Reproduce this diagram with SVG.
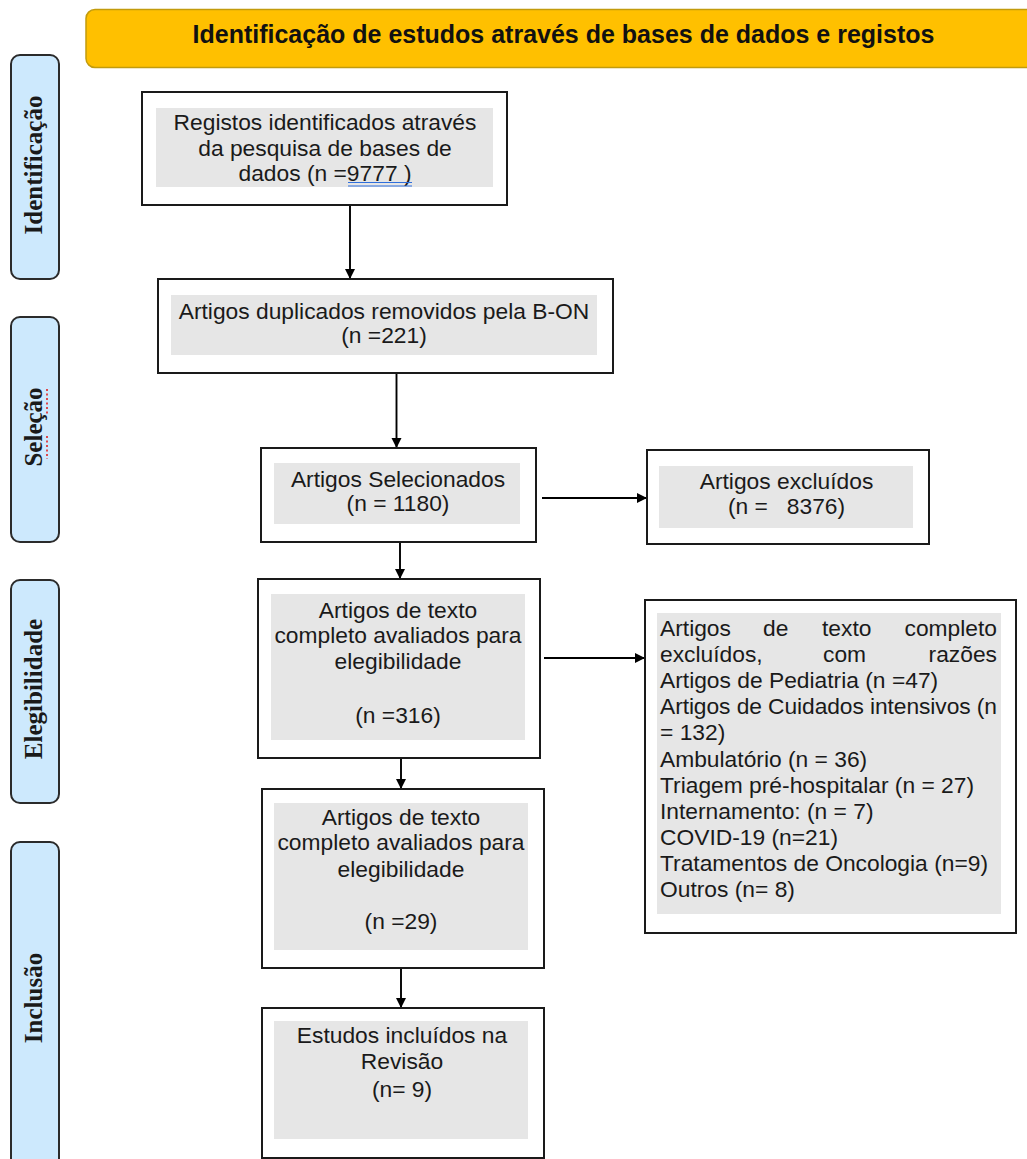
<svg xmlns="http://www.w3.org/2000/svg" width="1027" height="1159" viewBox="0 0 1027 1159">
<defs>
<style>
.box{fill:#ffffff;stroke:#1a1a1a;stroke-width:2}
.inner{fill:#e6e6e6;stroke:none}
.t{font-family:"Liberation Sans",Arial,sans-serif;font-size:22.8px;fill:#1a1a1a;text-anchor:middle;white-space:pre}
.tl{font-family:"Liberation Sans",Arial,sans-serif;font-size:22.8px;fill:#1a1a1a;white-space:pre}
.side{fill:#cde9fd;stroke:#2b2b2b;stroke-width:2}
.st{font-family:"Liberation Serif","Times New Roman",serif;font-weight:bold;font-size:25px;fill:#1a1a1a;text-anchor:middle}
.conn{stroke:#000;stroke-width:1.9;fill:none;marker-end:url(#ah)}
</style>
<marker id="ah" markerUnits="userSpaceOnUse" markerWidth="11" markerHeight="11" refX="10" refY="5.5" orient="auto">
<path d="M0,0.5 L10,5.5 L0,10.5 Z" fill="#000"/>
</marker>
</defs>

<g id="header">
<rect x="86" y="9.5" width="960" height="58" rx="9" fill="#ffc000" stroke="#c29b0c" stroke-width="1.5"/>
<text x="563.5" y="43" style="font-family:'Liberation Sans',Arial,sans-serif;font-weight:bold;font-size:25px;fill:#111;text-anchor:middle">Identificação de estudos através de bases de dados e registos</text>
</g>

<g id="stage-identificacao">
<rect class="side" x="11" y="55" width="48" height="224" rx="9"/>
<text class="st" transform="translate(42,165) rotate(-90)">Identificação</text>
</g>
<g id="stage-selecao">
<rect class="side" x="11" y="317" width="48" height="225" rx="9"/>
<text class="st" transform="translate(42,427) rotate(-90)">Seleção</text>
<path d="M47,389 L47,414 M47,436 L47,459" stroke="#e02020" stroke-width="1.6" stroke-dasharray="2,2.5" fill="none"/>
</g>
<g id="stage-elegibilidade">
<rect class="side" x="11" y="580" width="48" height="223" rx="9"/>
<text class="st" transform="translate(42,689) rotate(-90)">Elegibilidade</text>
</g>
<g id="stage-inclusao">
<rect class="side" x="11" y="842" width="48" height="340" rx="9"/>
<text class="st" transform="translate(42,998) rotate(-90)">Inclusão</text>
</g>

<g id="connectors">
<line class="conn" x1="350" y1="205" x2="350" y2="279"/>
<line class="conn" x1="396.5" y1="373" x2="396.5" y2="448"/>
<line class="conn" x1="542" y1="498" x2="647" y2="498"/>
<line class="conn" x1="400" y1="523" x2="400" y2="579"/>
<line class="conn" x1="544" y1="658" x2="645" y2="658"/>
<line class="conn" x1="401" y1="728" x2="401" y2="789"/>
<line class="conn" x1="401" y1="943" x2="401" y2="1008"/>
</g>

<g id="registos">
<rect class="box" x="142" y="92" width="365" height="113"/>
<rect class="inner" x="156" y="108" width="337" height="79"/>
<text class="t" x="325" y="130">Registos identificados através</text>
<text class="t" x="325" y="156">da pesquisa de bases de</text>
<text class="t" x="325" y="181">dados (n =9777 )</text>
<path d="M348,182.5 L412,182.5 M348,186 L412,186" stroke="#2f6fdc" stroke-width="1.2" fill="none"/>
</g>

<g id="duplicados">
<rect class="box" x="158" y="279" width="455" height="94"/>
<rect class="inner" x="171" y="295" width="426" height="60"/>
<text class="t" x="384" y="319">Artigos duplicados removidos pela B-ON</text>
<text class="t" x="384" y="343">(n =221)</text>
</g>

<g id="selecionados">
<rect class="box" x="261" y="448" width="275" height="94"/>
<rect class="inner" x="274" y="463" width="246" height="61"/>
<text class="t" x="398" y="487">Artigos Selecionados</text>
<text class="t" x="398" y="511">(n = 1180)</text>
</g>

<g id="excluidos">
<rect class="box" x="647" y="450" width="282" height="94"/>
<rect class="inner" x="659" y="466" width="254" height="62"/>
<text class="t" x="786.5" y="489">Artigos excluídos</text>
<text class="t" x="786.5" y="514">(n =   8376)</text>
</g>

<g id="avaliados-316">
<rect class="box" x="258" y="579" width="282" height="179"/>
<rect class="inner" x="271" y="594" width="254" height="146"/>
<text class="t" x="398" y="618">Artigos de texto</text>
<text class="t" x="398" y="643">completo avaliados para</text>
<text class="t" x="398" y="669">elegibilidade</text>
<text class="t" x="398" y="723">(n =316)</text>
</g>

<g id="excluidos-razoes">
<rect class="box" x="645" y="600" width="371" height="333"/>
<rect class="inner" x="657" y="613" width="344" height="301"/>
<text class="tl" x="660" y="636">Artigos</text>
<text class="tl" x="763" y="636">de</text>
<text class="tl" x="822" y="636">texto</text>
<text class="tl" x="997" y="636" text-anchor="end">completo</text>
<text class="tl" x="660" y="662">excluídos,</text>
<text class="tl" x="823" y="662">com</text>
<text class="tl" x="997" y="662" text-anchor="end">razões</text>
<text class="tl" x="660" y="688">Artigos de Pediatria (n =47)</text>
<text class="tl" x="660" y="714" textLength="337" lengthAdjust="spacing">Artigos de Cuidados intensivos (n</text>
<text class="tl" x="660" y="740">= 132)</text>
<text class="tl" x="660" y="766.5">Ambulatório (n = 36)</text>
<text class="tl" x="660" y="792.5">Triagem pré-hospitalar (n = 27)</text>
<text class="tl" x="660" y="818.5">Internamento: (n = 7)</text>
<text class="tl" x="660" y="845">COVID-19 (n=21)</text>
<text class="tl" x="660" y="871">Tratamentos de Oncologia (n=9)</text>
<text class="tl" x="660" y="897">Outros (n= 8)</text>
</g>

<g id="avaliados-29">
<rect class="box" x="262" y="789" width="282" height="179"/>
<rect class="inner" x="274" y="803" width="254" height="147"/>
<text class="t" x="401" y="825">Artigos de texto</text>
<text class="t" x="401" y="850">completo avaliados para</text>
<text class="t" x="401" y="877">elegibilidade</text>
<text class="t" x="401" y="929">(n =29)</text>
</g>

<g id="incluidos">
<rect class="box" x="262" y="1008" width="282" height="150"/>
<rect class="inner" x="274" y="1021" width="254" height="118"/>
<text class="t" x="402" y="1043">Estudos incluídos na</text>
<text class="t" x="402" y="1069">Revisão</text>
<text class="t" x="402" y="1097">(n= 9)</text>
</g>
</svg>
